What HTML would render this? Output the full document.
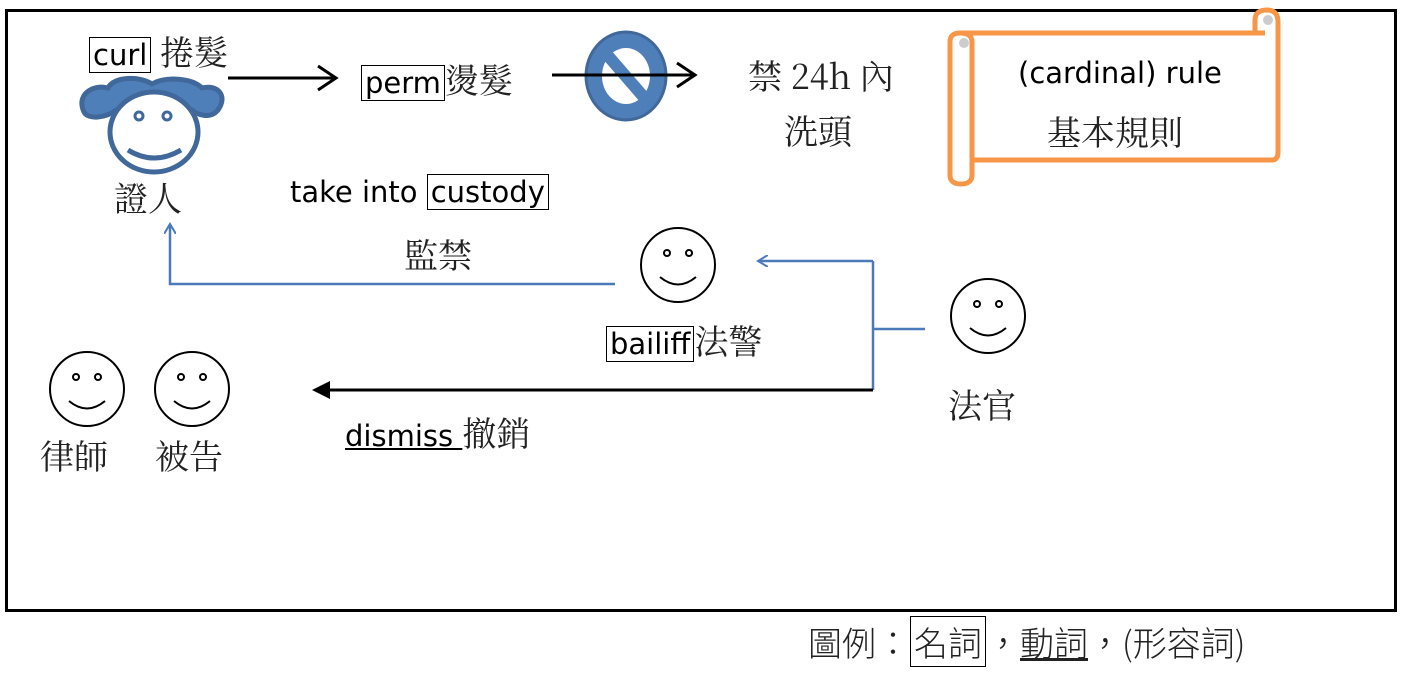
<!DOCTYPE html>
<html><head><meta charset="utf-8"><style>
body{margin:0;width:1403px;height:678px;background:#fff;overflow:hidden;position:relative;font-family:"Liberation Sans","Noto Sans CJK TC",sans-serif}
.t{position:absolute;white-space:nowrap;color:#000}
.en{font-family:"DejaVu Sans",sans-serif;font-size:29px}
.zh{font-family:"Noto Serif CJK SC","Noto Sans CJK TC",serif;font-size:34px;color:#222}
.bx{border:1.5px solid #000;padding:0 3px}
</style></head><body>
<div style="position:absolute;left:5px;top:9px;width:1386px;height:597px;border:3px solid #000"></div>
<svg width="1403" height="678" style="position:absolute;left:0;top:0">
<defs>
<marker id="ab" markerWidth="12" markerHeight="12" refX="10" refY="6" orient="auto" markerUnits="userSpaceOnUse"><path d="M0,0 L10,6 L0,12" fill="none" stroke="#4a7ab8" stroke-width="2"/></marker>
</defs>
<g stroke="#41689a" stroke-width="5" fill="#4f7fb9">
<path d="M84,112 C76,95 92,84 108,88 C114,76 140,76 152,84 C166,76 192,78 202,88 C218,84 228,96 218,110 C210,120 196,114 192,110 L116,110 C106,118 88,120 84,112Z"/>
</g>
<ellipse cx="154" cy="132" rx="44" ry="40" fill="#fff" stroke="#41689a" stroke-width="5"/>
<circle cx="139" cy="116" r="4" fill="none" stroke="#41689a" stroke-width="3"/>
<circle cx="167" cy="116" r="4" fill="none" stroke="#41689a" stroke-width="3"/>
<path d="M128,150 Q154,166 181,150" fill="none" stroke="#41689a" stroke-width="5"/>
<line x1="228" y1="78" x2="336" y2="78" stroke="#000" stroke-width="3"/>
<path d="M318,66 L336,78 L318,90" fill="none" stroke="#000" stroke-width="3"/>
<ellipse cx="626" cy="76" rx="40" ry="44" fill="#4f7fb9" stroke="#41689a" stroke-width="3"/>
<ellipse cx="626" cy="76" rx="24" ry="28" fill="#fff"/>
<line x1="603" y1="50" x2="648" y2="102" stroke="#4f7fb9" stroke-width="12"/>
<line x1="552" y1="75" x2="695" y2="75" stroke="#000" stroke-width="3"/>
<path d="M677,63 L695,75 L677,87" fill="none" stroke="#000" stroke-width="3"/>
<g fill="none" stroke="#f79646" stroke-width="5">
<path d="M960,33 L1265,33 M970,160 L1272,160 Q1278,160 1278,152 L1278,25"/>
<path d="M950,42 Q950,33 960,33 Q972,33 972,42 L972,175 Q972,184 961,184 Q950,184 950,175 Z"/>
<path d="M1255,20 Q1255,10 1267,10 Q1278,10 1278,22 L1278,30"/>
<path d="M1255,20 L1255,33"/>
</g>
<circle cx="964" cy="43" r="5" fill="#ccc"/>
<circle cx="1268" cy="20" r="5" fill="#ccc"/>
<polyline points="615,284 170,284 170,224" fill="none" stroke="#4a7ab8" stroke-width="2.5" marker-end="url(#ab)"/>
<line x1="925" y1="329" x2="873" y2="329" stroke="#4a7ab8" stroke-width="2.5"/>
<line x1="873" y1="261" x2="873" y2="390" stroke="#4a7ab8" stroke-width="2.5"/>
<line x1="873" y1="261" x2="758" y2="261" stroke="#4a7ab8" stroke-width="2.5" marker-end="url(#ab)"/>
<line x1="873" y1="390" x2="318" y2="390" stroke="#000" stroke-width="3"/>
<path d="M312,390 L330,381 L330,399Z" fill="#000"/>
<g fill="#fff" stroke="#000" stroke-width="2">
<circle cx="678" cy="265" r="37"/>
<circle cx="988" cy="316" r="37"/>
<circle cx="87" cy="389" r="37"/>
<circle cx="192" cy="389" r="37"/>
</g>
<g fill="none" stroke="#000" stroke-width="2">
<circle cx="667" cy="253" r="3"/><circle cx="689" cy="253" r="3"/><path d="M660,277 Q678,292 696,277"/>
<circle cx="977" cy="304" r="3"/><circle cx="999" cy="304" r="3"/><path d="M970,328 Q988,343 1006,328"/>
<circle cx="76" cy="377" r="3"/><circle cx="98" cy="377" r="3"/><path d="M69,401 Q87,416 105,401"/>
<circle cx="181" cy="377" r="3"/><circle cx="203" cy="377" r="3"/><path d="M174,401 Q192,416 210,401"/>
</g>
</svg>
<div class="t" style="left:89px;top:26px"><span class="en bx">curl</span><span class="zh"> 捲髮</span></div>
<div class="t" style="left:361px;top:54px"><span class="en bx">perm</span><span class="zh">燙髮</span></div>
<div class="t zh" style="left:748px;top:50px">禁 24h 內</div>
<div class="t zh" style="left:784px;top:105px">洗頭</div>
<div class="t en" style="left:1018px;top:56px">(cardinal) rule</div>
<div class="t zh" style="left:1047px;top:106px">基本規則</div>
<div class="t zh" style="left:114px;top:172px">證人</div>
<div class="t" style="left:290px;top:175px"><span class="en">take into </span><span class="en bx">custody</span></div>
<div class="t zh" style="left:404px;top:229px">監禁</div>
<div class="t" style="left:606px;top:315px"><span class="en bx">bailiff</span><span class="zh">法警</span></div>
<div class="t zh" style="left:948px;top:379px">法官</div>
<div class="t zh" style="left:40px;top:430px">律師</div>
<div class="t zh" style="left:155px;top:430px">被告</div>
<div class="t" style="left:345px;top:407px"><span class="en" style="text-decoration:underline">dismiss </span><span class="zh">撤銷</span></div>
<div class="t zh" style="left:808px;top:617px;font-size:34px;font-family:'Noto Sans CJK TC',sans-serif;font-weight:300">圖例：<span class="bx">名詞</span>，<u>動詞</u>，(形容詞)</div>
</body></html>
